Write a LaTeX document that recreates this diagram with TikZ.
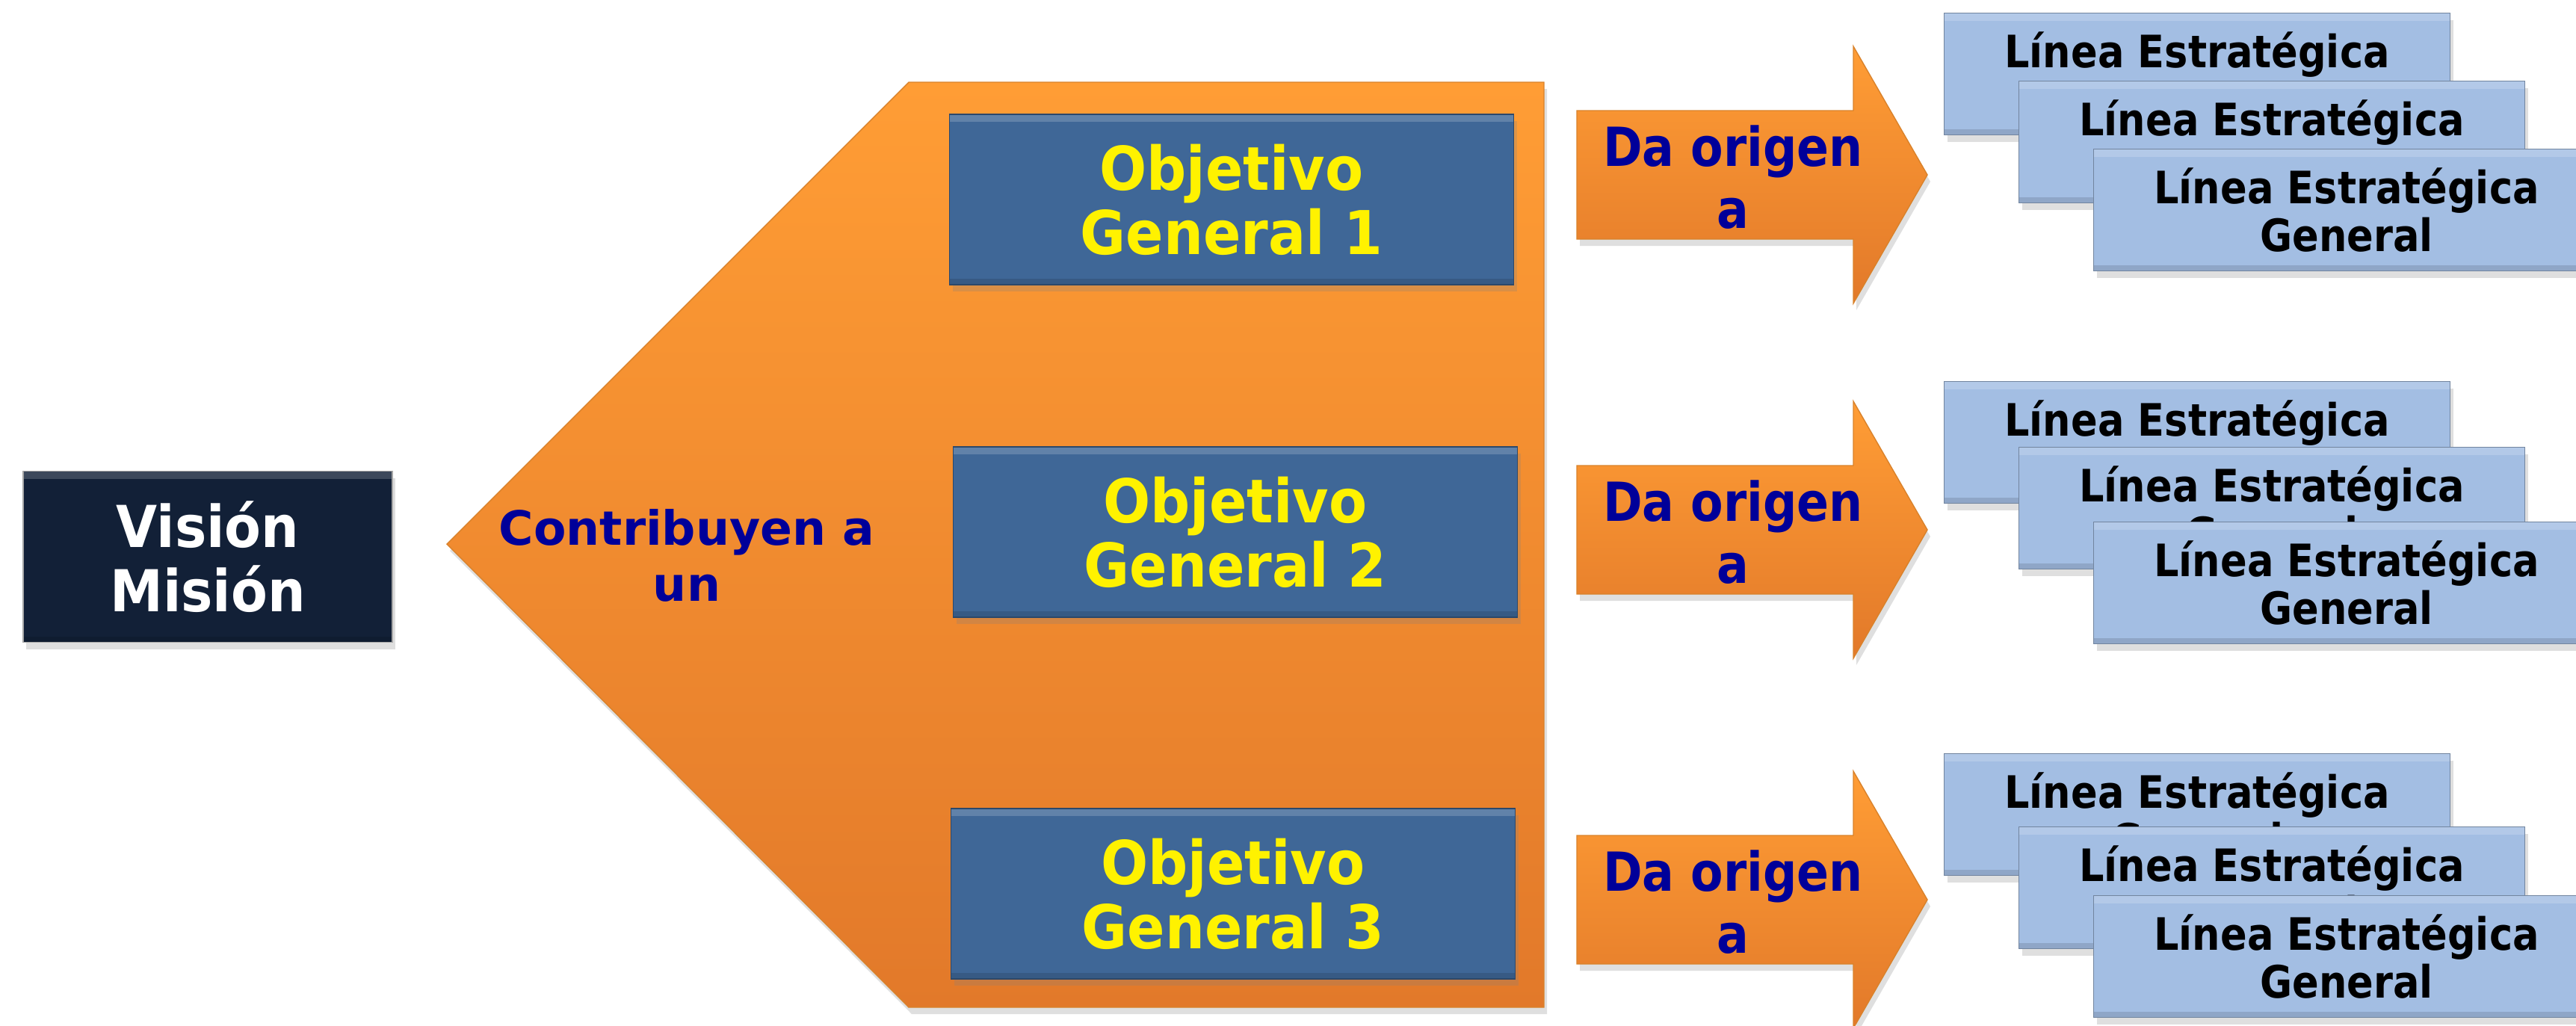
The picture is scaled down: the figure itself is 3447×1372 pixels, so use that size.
\documentclass[tikz,border=0pt]{standalone}
\usepackage{fontspec}
\setmainfont{DejaVu Sans}
\newfontfamily\objfont[FakeStretch=0.92]{DejaVu Sans}
\newfontfamily\linefont[FakeStretch=0.88]{DejaVu Sans}
\usepackage{tikz}
\usetikzlibrary{shadows,calc}

\definecolor{visionnavy}{HTML}{122037}
\definecolor{orangetop}{HTML}{FF9D35}
\definecolor{orangebot}{HTML}{E2792A}
\definecolor{orangeedge}{HTML}{D9822B}
\definecolor{objblue}{HTML}{3F6797}
\definecolor{lineblue}{HTML}{A3BEE3}
\definecolor{textblue}{HTML}{000099}

\tikzset{
  bevel/.style={path picture={
      \fill[white,opacity=0.18] (path picture bounding box.north west)
        rectangle ([yshift=-1.0mm]path picture bounding box.north east);
      \fill[black,opacity=0.12] (path picture bounding box.south west)
        rectangle ([yshift=0.8mm]path picture bounding box.south east);}},
  shadowed/.style={drop shadow={shadow xshift=0.4mm,shadow yshift=-0.9mm,opacity=0.25}},
  visionbox/.style={rectangle,fill=visionnavy,draw=gray!70,bevel,shadowed,
    minimum width=49.4mm,minimum height=22.9mm,align=center,text=white,
    font=\objfont\fontsize{22}{24.4}\selectfont\bfseries},
  objbox/.style={rectangle,fill=objblue,draw=objblue!70!black,bevel,shadowed,
    minimum width=75.5mm,minimum height=22.8mm,align=center,text=yellow,
    font=\objfont\fontsize{23}{24.4}\selectfont\bfseries},
  linebox/.style={rectangle,fill=lineblue,draw=lineblue!70!black,bevel,shadowed,
    minimum width=67.7mm,minimum height=16.3mm,align=center,text=black,
    font=\linefont\fontsize{17}{18.1}\selectfont\bfseries},
  bluetext/.style={align=center,text=textblue,font=\fontsize{18}{21.3}\selectfont\bfseries},
  origtext/.style={align=center,text=textblue,font=\linefont\fontsize{20.5}{23.8}\selectfont\bfseries},
  orangeshape/.style={shadowed,top color=orangetop,bottom color=orangebot,draw=orangeedge}
}

\begin{document}
\begin{tikzpicture}[x=0.1mm,y=-0.1mm]
    \clip (0,0) rectangle (3447,1372);

    \node[visionbox] (vision) at (278,745) {Visión\\Misión};

    % big pointed shape
    \shade[orangeshape] (598,728) -- (1216,110) -- (2066,110) -- (2066,1348) -- (1216,1348) -- cycle;
    \node[bluetext] (contrib) at (919,743) {Contribuyen a\\un};

    \node[objbox] (obj1) at (1648,267) {Objetivo\\General 1};
    \node[objbox] (obj2) at (1653,712) {Objetivo\\General 2};
    \node[objbox] (obj3) at (1650,1196) {Objetivo\\General 3};

    % arrows
    \shade[orangeshape] (2110,148) -- (2480,148) -- (2480,62) -- (2579,234) -- (2480,406) -- (2480,320) -- (2110,320) -- cycle;
    \node[origtext] (orig1) at (2319,237) {Da origen\\a};
    \shade[orangeshape] (2110,623) -- (2480,623) -- (2480,537) -- (2579,709) -- (2480,881) -- (2480,795) -- (2110,795) -- cycle;
    \node[origtext] (orig2) at (2319,712) {Da origen\\a};
    \shade[orangeshape] (2110,1118) -- (2480,1118) -- (2480,1032) -- (2579,1204) -- (2480,1376) -- (2480,1290) -- (2110,1290) -- cycle;
    \node[origtext] (orig3) at (2319,1207) {Da origen\\a};

    % strategic lines
    \node[linebox] (lin1a) at (2940,99) {Línea Estratégica\\General};
    \node[linebox] (lin1b) at (3040,190) {Línea Estratégica\\General};
    \node[linebox] (lin1c) at (3140,281) {Línea Estratégica\\General};

    \node[linebox] (lin2a) at (2940,592) {Línea Estratégica\\General};
    \node[linebox] (lin2b) at (3040,680) {Línea Estratégica\\General};
    \node[linebox] (lin2c) at (3140,780) {Línea Estratégica\\General};

    \node[linebox] (lin3a) at (2940,1090) {Línea Estratégica\\General};
    \node[linebox] (lin3b) at (3040,1188) {Línea Estratégica\\General};
    \node[linebox] (lin3c) at (3140,1280) {Línea Estratégica\\General};
\end{tikzpicture}
\end{document}
